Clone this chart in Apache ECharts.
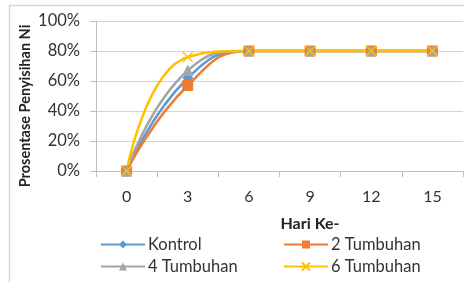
<!DOCTYPE html>
<html>
<head>
<meta charset="utf-8">
<script src="https://cdn.jsdelivr.net/npm/echarts@6/dist/echarts.min.js"></script>
<style>
  html, body { margin: 0; padding: 0; background: #fff; }
  #main { width: 464px; height: 282px; }
</style>
</head>
<body>
<div id="main"></div>
<script>
  // data
  const days = ['0', '3', '6', '9', '12', '15'];
  const kontrol = [0, 0.62, 0.80, 0.80, 0.80, 0.80];
  const tumbuhan2 = [0, 0.57, 0.80, 0.80, 0.80, 0.80];
  const tumbuhan4 = [0, 0.67, 0.80, 0.80, 0.80, 0.80];
  const tumbuhan6 = [0, 0.76, 0.80, 0.80, 0.80, 0.80];

  const font = 'Lato, "Open Sans", sans-serif';
  const crossPath = 'path://M0,0L10,10M10,0L0,10';

  const chart = echarts.init(document.getElementById('main'));

  const mkSeries = (name, data, color, symbol, size) => ({
    name: name,
    type: 'line',
    data: data,
    smooth: 0.5,
    symbol: symbol,
    symbolSize: size,
    lineStyle: { color: color, width: 2.5 },
    itemStyle: symbol === crossPath
      ? { color: 'transparent', borderColor: color, borderWidth: 1.2 }
      : { color: color, borderColor: color },
    color: color
  });

  const legendText = { fontSize: 16.5, fontFamily: font, color: '#333', padding: [0, 0, 0, -2] };

  const option = {
    animation: false,
    graphic: [
      {
        type: 'rect',
        shape: { x: 9.5, y: 5.5, width: 470, height: 290 },
        style: { fill: 'none', stroke: '#d6d6d6', lineWidth: 1.5 }
      },
      {
        type: 'text',
        x: 25, y: 106,
        rotation: Math.PI / 2,
        style: {
          text: 'Prosentase Penyisihan Ni',
          font: 'bold 14.5px ' + font,
          fill: '#222',
          align: 'center',
          verticalAlign: 'middle'
        }
      },
      {
        type: 'text',
        x: 310, y: 224,
        style: {
          text: 'Hari Ke-',
          font: 'bold 16px ' + font,
          fill: '#222',
          align: 'center',
          verticalAlign: 'middle'
        }
      }
    ],
    grid: { left: 96, right: 1, top: 21, bottom: 111 },
    xAxis: {
      type: 'category',
      data: days,
      boundaryGap: true,
      axisLine: { lineStyle: { color: '#bfbfbf', width: 1 } },
      axisTick: { show: true, length: 6, lineStyle: { color: '#bfbfbf' } },
      axisLabel: { color: '#333', fontSize: 16, fontFamily: font, margin: 18 }
    },
    yAxis: {
      type: 'value',
      min: 0,
      max: 1,
      interval: 0.2,
      axisLine: { show: true, lineStyle: { color: '#bfbfbf', width: 1 } },
      axisTick: { show: true, length: 6, lineStyle: { color: '#bfbfbf' } },
      splitLine: { lineStyle: { color: '#d4d4d4', width: 1.2 } },
      axisLabel: {
        color: '#333', fontSize: 16.5, fontFamily: font, margin: 16,
        formatter: v => Math.round(v * 100) + '%'
      }
    },
    legend: [
      {
        data: ['Kontrol', '4 Tumbuhan'],
        orient: 'vertical',
        left: 100, top: 236, padding: 0, height: 46,
        itemWidth: 44, itemHeight: 10, itemGap: 5,
        textStyle: legendText
      },
      {
        data: ['2 Tumbuhan', '6 Tumbuhan'],
        orient: 'vertical',
        left: 283, top: 236, padding: 0, height: 46,
        itemWidth: 44, itemHeight: 10, itemGap: 5,
        textStyle: legendText
      }
    ],
    series: [
      mkSeries('Kontrol', kontrol, '#5B9BD5', 'diamond', 10),
      mkSeries('2 Tumbuhan', tumbuhan2, '#ED7D31', 'rect', 10),
      mkSeries('4 Tumbuhan', tumbuhan4, '#A5A5A5', 'triangle', 10),
      mkSeries('6 Tumbuhan', tumbuhan6, '#FFC000', crossPath, 10)
    ]
  };

  chart.setOption(option);
</script>
</body>
</html>
